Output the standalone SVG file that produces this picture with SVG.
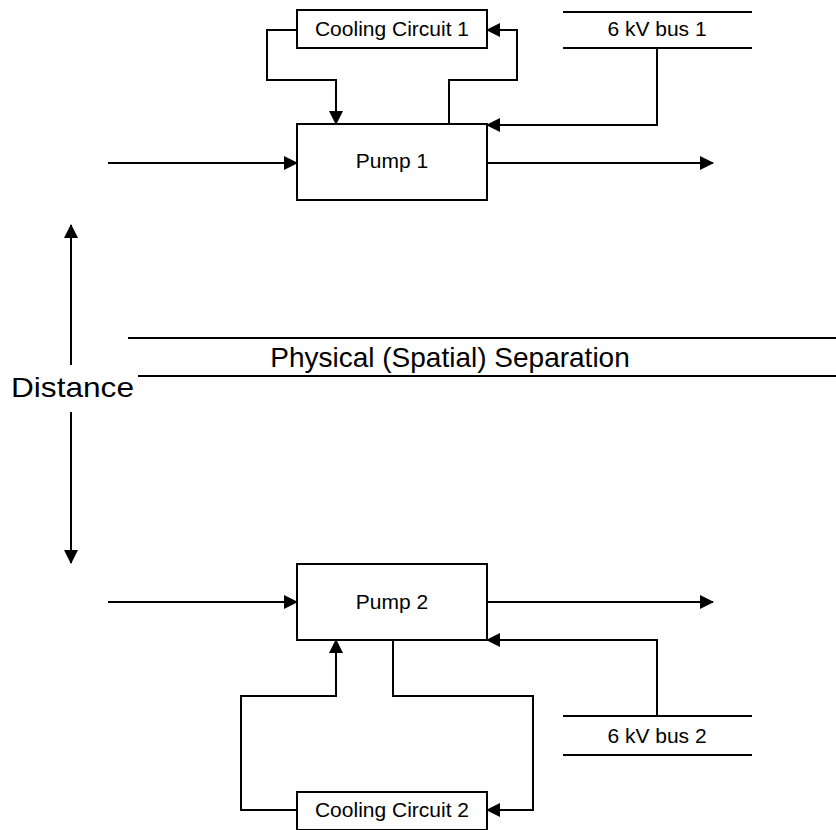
<svg xmlns="http://www.w3.org/2000/svg" width="836" height="830" viewBox="0 0 836 830">
  <style>
    .box { fill: #fff; stroke: #000; stroke-width: 2; }
    .wire { fill: none; stroke: #000; stroke-width: 2; }
    .arrow { marker-end: url(#head); }
    .lbl { font-family: "Liberation Sans", Arial, sans-serif; font-size: 21px; fill: #000; text-anchor: middle; }
    .big { font-family: "Liberation Sans", Arial, sans-serif; font-size: 28px; fill: #000; text-anchor: middle; }
  </style>
  <defs>
    <marker id="head" markerUnits="userSpaceOnUse" markerWidth="15" markerHeight="15" refX="13" refY="7" orient="auto">
      <path d="M0,0 L14,7 L0,14 Z" fill="#000"/>
    </marker>
  </defs>
  <rect width="836" height="830" fill="#fff"/>

  <g id="connectors">
    <!-- train 1 -->
    <path class="wire arrow" d="M108,163 H297"/>
    <path class="wire arrow" d="M487,163 H713"/>
    <path class="wire arrow" d="M297,30 H267 V80 H336 V124"/>
    <path class="wire arrow" d="M449,124 V80 H517 V30 H487"/>
    <path class="wire arrow" d="M657,48 V125 H487"/>
    <!-- train 2 -->
    <path class="wire arrow" d="M108,602 H297"/>
    <path class="wire arrow" d="M487,602 H713"/>
    <path class="wire arrow" d="M297,810 H241 V696 H336 V640"/>
    <path class="wire arrow" d="M393,640 V696 H533 V810 H487"/>
    <path class="wire arrow" d="M657,716 V640 H487"/>
    <!-- distance -->
    <path class="wire arrow" d="M71,365 V225"/>
    <path class="wire arrow" d="M71,412 V563"/>
  </g>

  <g id="separation">
    <line class="wire" x1="128" y1="338" x2="836" y2="338"/>
    <line class="wire" x1="138" y1="376" x2="836" y2="376"/>
    <text class="big" x="450" y="367">Physical (Spatial) Separation</text>
  </g>

  <g id="distance">
    <text class="big" x="72.5" y="397" textLength="123" lengthAdjust="spacingAndGlyphs">Distance</text>
  </g>

  <g id="cooling1">
    <rect class="box" x="297" y="10" width="190" height="38"/>
    <text class="lbl" x="392" y="36">Cooling Circuit 1</text>
  </g>

  <g id="pump1">
    <rect class="box" x="297" y="124" width="190" height="76"/>
    <text class="lbl" x="392" y="168">Pump 1</text>
  </g>

  <g id="bus1">
    <line class="wire" x1="563" y1="12" x2="752" y2="12"/>
    <line class="wire" x1="563" y1="48" x2="752" y2="48"/>
    <text class="lbl" x="657" y="36">6 kV bus 1</text>
  </g>

  <g id="pump2">
    <rect class="box" x="297" y="564" width="190" height="76"/>
    <text class="lbl" x="392" y="609">Pump 2</text>
  </g>

  <g id="cooling2">
    <rect class="box" x="297" y="792" width="190" height="38"/>
    <text class="lbl" x="392" y="817">Cooling Circuit 2</text>
  </g>

  <g id="bus2">
    <line class="wire" x1="563" y1="716" x2="752" y2="716"/>
    <line class="wire" x1="563" y1="755" x2="752" y2="755"/>
    <text class="lbl" x="657" y="743">6 kV bus 2</text>
  </g>
</svg>
